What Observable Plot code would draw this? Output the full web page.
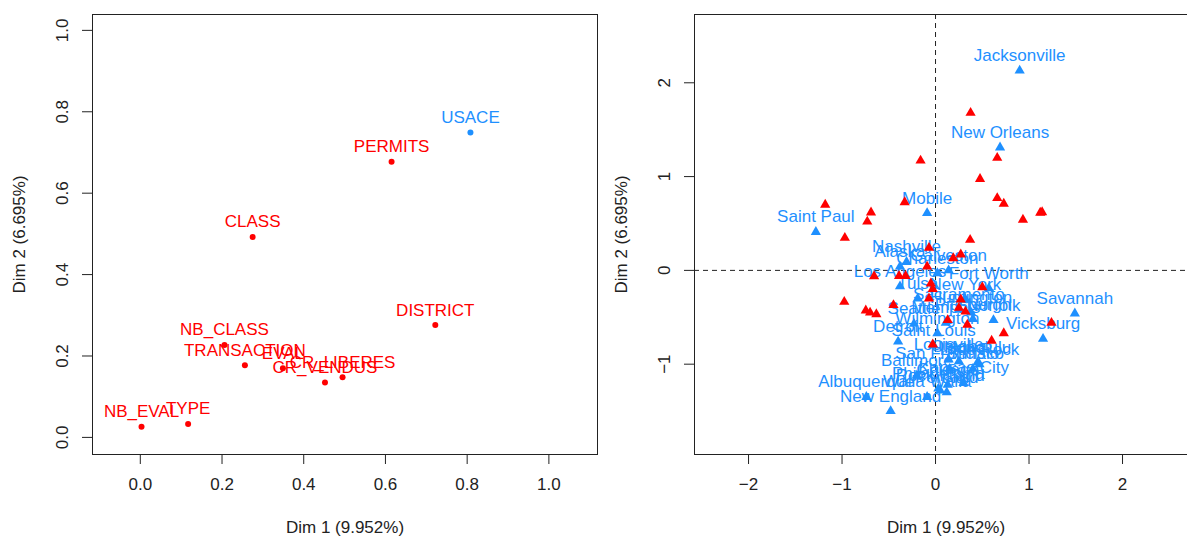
<!DOCTYPE html>
<html><head><meta charset="utf-8">
<script src="https://cdn.jsdelivr.net/npm/d3@7"></script>
<script src="https://cdn.jsdelivr.net/npm/@observablehq/plot@0.6"></script>
<style>
html,body{margin:0;padding:0;background:#fff;overflow:hidden;}
#wrap{display:flex;width:1200px;height:537px;}
</style></head><body><div id="wrap"></div>
<script>
// ---- Left panel: variables ----
const varNames = ["USACE","PERMITS","CLASS","DISTRICT","NB_CLASS","TRANSACTION","EVAL","CR_LIBERES","CR_VENDUS","NB_EVAL","TYPE"];
const varDim1  = [0.808, 0.615, 0.275, 0.722, 0.206, 0.256, 0.349, 0.495, 0.452, 0.003, 0.117];
const varDim2  = [0.749, 0.677, 0.4925, 0.276, 0.227, 0.177, 0.170, 0.148, 0.135, 0.026, 0.033];
const varGroup = ["sup","act","act","act","act","act","act","act","act","act","act"];

// ---- Right panel: individuals (districts) ----
const cityNames = ["Jacksonville","New Orleans","Mobile","Saint Paul","Savannah","Vicksburg","Albuquerque","New England",
  "Nashville","Alaska","Charleston","Galveston","Los Angeles","Fort Worth","Tulsa","New York","Sacramento","Huntington",
  "Norfolk","Seattle","Memphis","Pittsburgh","Wilmington","Detroit","Saint Louis","Louisville","Omaha","Little Rock",
  "San Francisco","Buffalo","Baltimore","Chicago","Kansas City","Philadelphia","Rock Island","Walla Walla","Portland","Honolulu"];
const cityDim1 = [0.90, 0.69, -0.09, -1.28, 1.49, 1.15, -0.74, -0.48,
  -0.31, -0.38, 0.02, 0.14, -0.38, 0.57, -0.19, 0.32, 0.25, 0.38,
  0.62, -0.23, 0.11, 0.40, 0.02, -0.40, -0.02, 0.14, 0.25, 0.47,
  0.15, 0.40, -0.20, 0.13, 0.30, 0.03, 0.05, -0.09, 0.12, 0.45];
const cityDim2 = [2.13, 1.31, 0.61, 0.41, -0.46, -0.73, -1.35, -1.50,
  0.09, 0.04, -0.03, 0.00, -0.17, -0.19, -0.30, -0.31, -0.42, -0.45,
  -0.53, -0.57, -0.56, -0.52, -0.67, -0.76, -0.80, -0.95, -0.97, -1.00,
  -1.05, -1.05, -1.12, -1.22, -1.20, -1.26, -1.28, -1.35, -1.30, -0.98];

// ---- Right panel: category points (red) ----
const catDim1 = [0.375, -0.16, 0.66, 0.476, 0.66, 0.73, 0.935, 1.12, 1.14, -0.33, -1.18, -0.69, -0.73, -0.97, 0.37,
  -0.976, -0.746, -0.70, -0.633, -0.45, 1.24, 0.73, 0.60, -0.657,
  -0.07, 0.27, 0.19, -0.09, -0.32, -0.39, -0.05, -0.03, -0.07, 0.27, 0.32, 0.25, 0.13, 0.34, 0.50, -0.03];
const catDim2 = [1.68, 1.17, 1.20, 0.975, 0.77, 0.71, 0.54, 0.615, 0.62, 0.726, 0.70, 0.617, 0.52, 0.347, 0.325,
  -0.336, -0.427, -0.45, -0.467, -0.37, -0.56, -0.67, -0.75, -0.062,
  0.24, 0.17, 0.13, 0.04, -0.06, -0.06, -0.14, -0.20, -0.30, -0.31, -0.44, -0.40, -0.53, -0.58, -0.18, -0.79];

const xTitle = "Dim 1 (9.952%)";
const yTitle = "Dim 2 (6.695%)";
const leftTicks = [0, 0.2, 0.4, 0.6, 0.8, 1.0];
const rightXTicks = [-2, -1, 0, 1, 2];
const rightYTicks = [-1, 0, 1, 2];

const RED = "#ff0000", BLUE = "#1e90ff", INK = "#222";
const FONT = "'Liberation Sans', Arial, Helvetica, sans-serif";

const vars = varNames.map((n, i) => ({name: n, x: varDim1[i], y: varDim2[i], g: varGroup[i]}));
const cities = cityNames.map((n, i) => ({name: n, x: cityDim1[i], y: cityDim2[i]}));
const cats = catDim1.map((v, i) => ({x: v, y: catDim2[i]}));

function axes(xt, xf, yt, yf) {
  return [
    Plot.axisX({ticks: xt, tickFormat: xf, tickSize: 10, tickPadding: 13, fontSize: 17, color: INK,
      label: xTitle, labelAnchor: "center", labelArrow: "none", labelOffset: 78}),
    Plot.axisY({ticks: yt, tickFormat: yf, tickSize: 10, tickPadding: 15, tickRotate: -90, fontSize: 17, color: INK,
      label: yTitle, labelAnchor: "center", labelArrow: "none", labelOffset: 80})
  ];
}

const common = {width: 600, height: 537, marginTop: 14, marginBottom: 83, marginRight: 3,
  style: {fontFamily: FONT, fontSize: "17px", background: "#fff", color: INK}};

const left = Plot.plot({
  ...common, marginLeft: 92,
  x: {domain: [-0.117, 1.119]},
  y: {domain: [-0.042, 1.039]},
  color: {domain: ["sup", "act"], range: [BLUE, RED]},
  marks: [
    ...axes(leftTicks, d3.format(".1f"), leftTicks, d3.format(".1f")),
    Plot.frame({stroke: INK}),
    Plot.dot(vars, {x: "x", y: "y", r: 3, fill: "g", stroke: null}),
    Plot.text(vars, {x: "x", y: "y", text: "name", fill: "g", dy: -15, fontSize: 17})
  ]
});

const right = Plot.plot({
  ...common, marginLeft: 94,
  x: {domain: [-2.578, 2.802]},
  y: {domain: [-1.963, 2.728]},
  marks: [
    ...axes(rightXTicks, d3.format("d"), rightYTicks, d3.format("d")),
    Plot.frame({stroke: INK}),
    Plot.ruleX([0], {stroke: INK, strokeDasharray: "5,4"}),
    Plot.ruleY([0], {stroke: INK, strokeDasharray: "5,4"}),
    Plot.dot(cities, {x: "x", y: "y", symbol: "triangle", r: 3.8, fill: BLUE}),
    Plot.text(cities, {x: "x", y: "y", text: "name", fill: BLUE, dy: -15, fontSize: 17}),
    Plot.dot(cats, {x: "x", y: "y", symbol: "triangle", r: 3.8, fill: RED})
  ]
});

document.getElementById("wrap").append(left, right);
</script></body></html>
